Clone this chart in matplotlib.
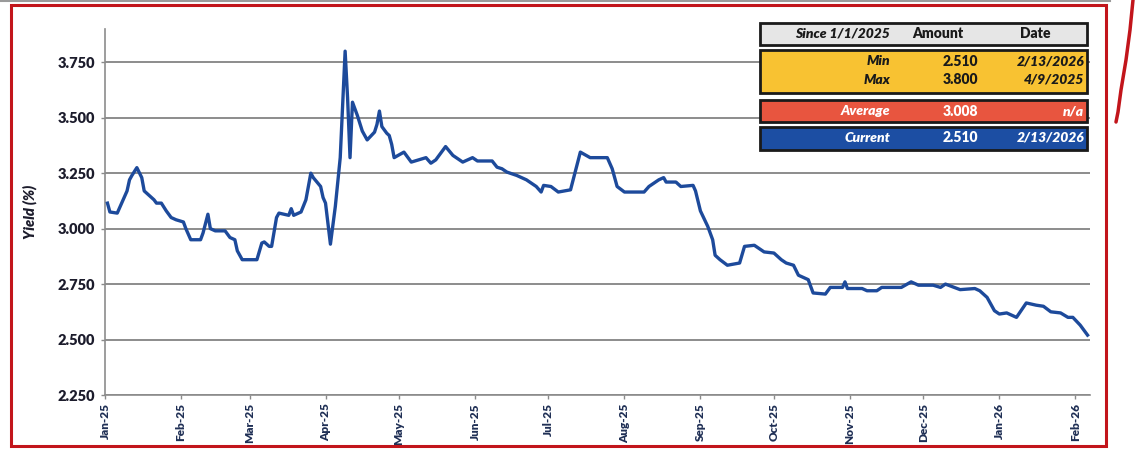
import matplotlib
matplotlib.use("Agg")
import matplotlib.pyplot as plt
import matplotlib.dates as mdates
from matplotlib.patches import Rectangle
from matplotlib.lines import Line2D
import pandas as pd

### data
dates = ['2025-01-02', '2025-01-03', '2025-01-06', '2025-01-08', '2025-01-10', '2025-01-11',
         '2025-01-12', '2025-01-14', '2025-01-16', '2025-01-17', '2025-01-19', '2025-01-21',
         '2025-01-22', '2025-01-24', '2025-01-26', '2025-01-28', '2025-01-30', '2025-02-02',
         '2025-02-03', '2025-02-05', '2025-02-09', '2025-02-10', '2025-02-12', '2025-02-13',
         '2025-02-15', '2025-02-19', '2025-02-21', '2025-02-23', '2025-02-24', '2025-02-26',
         '2025-03-04', '2025-03-06', '2025-03-07', '2025-03-09', '2025-03-10', '2025-03-12',
         '2025-03-13', '2025-03-17', '2025-03-18', '2025-03-19', '2025-03-22', '2025-03-24',
         '2025-03-26', '2025-03-27', '2025-03-30', '2025-03-31', '2025-04-01', '2025-04-03',
         '2025-04-05', '2025-04-07', '2025-04-09', '2025-04-10', '2025-04-11', '2025-04-12',
         '2025-04-14', '2025-04-16', '2025-04-18', '2025-04-21', '2025-04-22', '2025-04-23',
         '2025-04-24', '2025-04-26', '2025-04-27', '2025-04-28', '2025-04-29', '2025-05-03',
         '2025-05-06', '2025-05-12', '2025-05-14', '2025-05-16', '2025-05-20', '2025-05-23',
         '2025-05-27', '2025-05-31', '2025-06-02', '2025-06-08', '2025-06-10', '2025-06-12',
         '2025-06-14', '2025-06-18', '2025-06-22', '2025-06-26', '2025-06-28', '2025-06-29',
         '2025-07-02', '2025-07-05', '2025-07-10', '2025-07-12', '2025-07-14', '2025-07-18',
         '2025-07-25', '2025-07-27', '2025-07-29', '2025-08-01', '2025-08-09', '2025-08-11',
         '2025-08-15', '2025-08-17', '2025-08-18', '2025-08-22', '2025-08-24', '2025-08-29',
         '2025-08-30', '2025-09-01', '2025-09-04', '2025-09-06', '2025-09-07', '2025-09-09',
         '2025-09-12', '2025-09-17', '2025-09-19', '2025-09-23', '2025-09-27', '2025-10-01',
         '2025-10-04', '2025-10-06', '2025-10-09', '2025-10-11', '2025-10-15', '2025-10-17',
         '2025-10-22', '2025-10-24', '2025-10-29', '2025-10-30', '2025-10-31', '2025-11-06',
         '2025-11-08', '2025-11-12', '2025-11-14', '2025-11-22', '2025-11-26', '2025-11-29',
         '2025-12-05', '2025-12-08', '2025-12-10', '2025-12-16', '2025-12-22', '2025-12-24',
         '2025-12-27', '2025-12-30', '2026-01-01', '2026-01-04', '2026-01-08', '2026-01-12',
         '2026-01-16', '2026-01-19', '2026-01-22', '2026-01-26', '2026-01-29', '2026-01-31',
         '2026-02-03', '2026-02-06']
yields = [3.115, 3.075, 3.070, 3.120, 3.170, 3.220,
          3.240, 3.275, 3.230, 3.170, 3.150, 3.130,
          3.115, 3.115, 3.080, 3.050, 3.040, 3.030,
          3.000, 2.950, 2.950, 2.980, 3.065, 3.000,
          2.990, 2.990, 2.960, 2.950, 2.900, 2.860,
          2.860, 2.935, 2.940, 2.920, 2.920, 3.050,
          3.070, 3.060, 3.090, 3.060, 3.075, 3.130,
          3.250, 3.230, 3.190, 3.140, 3.115, 2.930,
          3.100, 3.320, 3.800, 3.590, 3.320, 3.570,
          3.510, 3.440, 3.400, 3.435, 3.470, 3.530,
          3.460, 3.430, 3.420, 3.380, 3.320, 3.345,
          3.300, 3.320, 3.295, 3.310, 3.370, 3.330,
          3.300, 3.320, 3.305, 3.305, 3.277, 3.270,
          3.255, 3.240, 3.220, 3.190, 3.165, 3.195,
          3.190, 3.165, 3.175, 3.260, 3.345, 3.320,
          3.320, 3.270, 3.190, 3.165, 3.165, 3.190,
          3.220, 3.230, 3.210, 3.210, 3.190, 3.195,
          3.170, 3.080, 3.010, 2.950, 2.880, 2.860,
          2.835, 2.845, 2.920, 2.925, 2.895, 2.890,
          2.860, 2.845, 2.835, 2.790, 2.770, 2.710,
          2.705, 2.735, 2.735, 2.760, 2.730, 2.730,
          2.720, 2.720, 2.735, 2.735, 2.760, 2.745,
          2.745, 2.735, 2.750, 2.725, 2.730, 2.720,
          2.690, 2.630, 2.615, 2.620, 2.600, 2.665,
          2.655, 2.650, 2.625, 2.620, 2.600, 2.600,
          2.565, 2.520]

### summary box
box_header = ['Since 1/1/2025', 'Amount', 'Date']
box_labels = ['Min', 'Max', 'Average', 'Current']
box_amounts = ['2.510', '3.800', '3.008', '2.510']
box_dates = ['2/13/2026', '4/9/2025', 'n/a', '2/13/2026']

W, H = 1138, 451
def fx(x):
    return x / float(W)
def fy(y):
    return 1 - y / float(H)

plt.rcParams['font.family'] = ['Lato', 'DejaVu Sans']

fig = plt.figure(figsize=(W / 100.0, H / 100.0), dpi=100)
fig.patch.set_facecolor('white')
ax = fig.add_axes([fx(105), fy(395), fx(1090) - fx(105), fy(29) - fy(395)])

x = pd.to_datetime(dates)
ax.plot(x, yields, color='#1d4a9b', linewidth=2.4, solid_joinstyle='round', zorder=3)

ax.set_ylim(2.25, 3.9)
ax.set_yticks([2.25, 2.5, 2.75, 3.0, 3.25, 3.5, 3.75])
ax.set_yticklabels(['%.3f' % v for v in [2.25, 2.5, 2.75, 3.0, 3.25, 3.5, 3.75]],
                   fontsize=10.5, fontweight='heavy', color='#1c1c2c')
ax.set_xlim(pd.Timestamp('2025-01-01'), pd.Timestamp('2026-02-07'))
ax.xaxis.set_major_locator(mdates.MonthLocator())
ax.xaxis.set_major_formatter(mdates.DateFormatter('%b-%y'))
for lab in ax.get_xticklabels():
    lab.set_rotation(90)
ax.tick_params(axis='x', labelsize=8.5, colors='#8a8a8a', length=3, width=1, pad=3)
ax.tick_params(axis='y', colors='#8a8a8a', length=3, width=1, pad=4)
for lab in ax.get_xticklabels():
    lab.set_color('#1f2f55')
    lab.set_fontweight('heavy')
for lab in ax.get_yticklabels():
    lab.set_color('#1c1c2c')

ax.yaxis.grid(True, color='#8c8c8c', linewidth=1.4)
ax.set_axisbelow(True)
for s in ['top', 'right']:
    ax.spines[s].set_visible(False)
for s in ['left', 'bottom']:
    ax.spines[s].set_color('#8c8c8c')
    ax.spines[s].set_linewidth(1.2)

fig.text(fx(30), fy(212), 'Yield (%)', rotation=90, ha='center', va='center',
         fontsize=10.5, fontweight='heavy', fontstyle='italic', color='#1c1c2c')

### summary table drawn in figure coordinates
def box(y0, y1, fc):
    fig.patches.append(Rectangle((fx(760), fy(y1)), fx(1087) - fx(760), fy(y0) - fy(y1),
                                 transform=fig.transFigure, facecolor=fc,
                                 edgecolor='#1a1a1a', linewidth=2.0, zorder=5))

box(23, 45, '#e6e6e6')
box(50, 93, '#f8c232')
box(100, 122, '#e8553f')
box(127, 150, '#1c4ea3')

tkw = dict(fontsize=10, fontweight='heavy', va='center', zorder=6)
fig.text(fx(890), fy(34), box_header[0], ha='right', fontstyle='italic', color='#1a1a1a', **tkw)
fig.text(fx(938), fy(34), box_header[1], ha='center', color='#1a1a1a', **tkw)
fig.text(fx(1035), fy(34), box_header[2], ha='center', color='#1a1a1a', **tkw)

row_y = [61, 80, 111, 138]
row_c = ['#1a1a1a', '#1a1a1a', 'white', 'white']
for i in range(4):
    fig.text(fx(890), fy(row_y[i]), box_labels[i], ha='right', fontstyle='italic', color=row_c[i], **tkw)
    fig.text(fx(978), fy(row_y[i]), box_amounts[i], ha='right', color=row_c[i], **tkw)
    fig.text(fx(1084), fy(row_y[i]), box_dates[i], ha='right', fontstyle='italic', color=row_c[i], **tkw)

### red frame and the hand drawn mark
fig.patches.append(Rectangle((fx(11), fy(446)), fx(1106) - fx(11), fy(5) - fy(446),
                             transform=fig.transFigure, facecolor='none',
                             edgecolor='#c2151b', linewidth=2.2, zorder=1))
fig.lines.append(Line2D([fx(0), fx(1110)], [fy(1), fy(1)], transform=fig.transFigure,
                        color='#9a9a9a', linewidth=1.5))
fig.lines.append(Line2D([fx(1133), fx(1130), fx(1126), fx(1121), fx(1118), fx(1116)],
                        [fy(0), fy(30), fy(60), fy(90), fy(112), fy(122)],
                        transform=fig.transFigure, color='#c2151b', linewidth=2.5,
                        solid_capstyle='round'))

plt.savefig('out.png', dpi=100)
